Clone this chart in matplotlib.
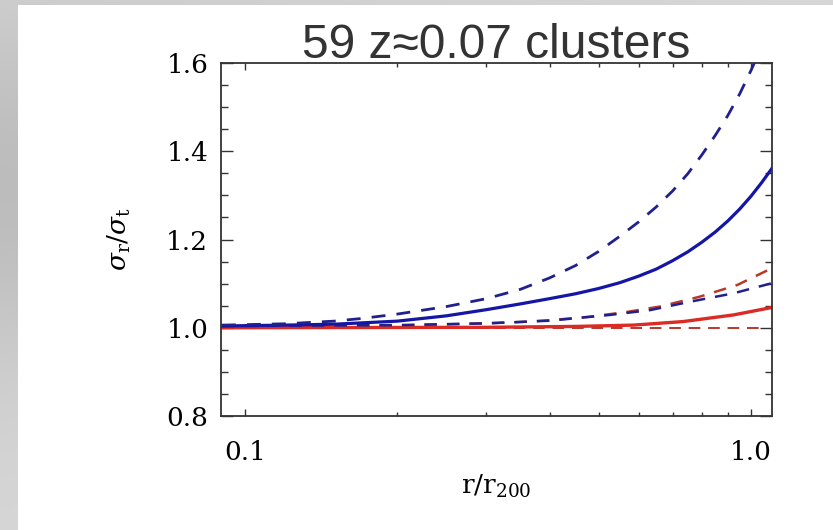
import numpy as np
import matplotlib
matplotlib.use("Agg")
import matplotlib.pyplot as plt
from matplotlib.patches import Rectangle
from matplotlib.ticker import FixedLocator, NullFormatter, MultipleLocator

plt.rcParams['mathtext.fontset'] = 'dejavuserif'

# --- velocity-dispersion anisotropy profiles, sigma_r / sigma_t vs r / r200 ---
r_blue_dash_hi = [0.09, 0.10, 0.12, 0.15, 0.17, 0.20, 0.25, 0.30, 0.35, 0.40, 0.45,
                  0.50, 0.55, 0.60, 0.65, 0.70, 0.75, 0.80, 0.85, 0.90, 0.95, 1.00, 1.02]
s_blue_dash_hi = [1.006, 1.007, 1.009, 1.015, 1.021, 1.031, 1.048, 1.066, 1.087, 1.113, 1.141,
                  1.173, 1.207, 1.240, 1.274, 1.310, 1.349, 1.392, 1.436, 1.481, 1.530, 1.583, 1.605]

r_blue_solid = [0.09, 0.12, 0.15, 0.20, 0.25, 0.30, 0.35, 0.40, 0.45, 0.50, 0.55,
                0.60, 0.65, 0.70, 0.75, 0.80, 0.85, 0.90, 0.95, 1.00, 1.05, 1.10]
s_blue_solid = [1.004, 1.006, 1.008, 1.015, 1.027, 1.041, 1.054, 1.066, 1.077, 1.089, 1.102,
                1.117, 1.133, 1.152, 1.172, 1.194, 1.217, 1.242, 1.269, 1.298, 1.329, 1.361]

r_red_dash_hi = [0.09, 0.20, 0.30, 0.35, 0.40, 0.48, 0.57, 0.66, 0.79, 0.94, 1.10]
s_red_dash_hi = [1.003, 1.005, 1.010, 1.013, 1.017, 1.025, 1.036, 1.048, 1.070, 1.097, 1.135]

r_blue_dash_lo = [0.09, 0.20, 0.30, 0.40, 0.526, 0.632, 0.758, 0.923, 1.10]
s_blue_dash_lo = [1.004, 1.006, 1.010, 1.016, 1.029, 1.040, 1.059, 1.078, 1.101]

r_red_solid = [0.09, 0.30, 0.45, 0.586, 0.734, 0.923, 1.10]
s_red_solid = [1.000, 1.001, 1.003, 1.006, 1.014, 1.029, 1.046]

r_red_dash_lo = [0.09, 0.30, 0.60, 1.05]
s_red_dash_lo = [1.000, 1.000, 1.000, 1.000]

x_ticks = [0.1, 1.0]
x_tick_labels = ['0.1', '1.0']
y_ticks = [0.8, 1.0, 1.2, 1.4, 1.6]
y_tick_labels = ['0.8', '1.0', '1.2', '1.4', '1.6']

W, H = 833, 530
fig = plt.figure(figsize=(W / 100, H / 100), dpi=100)

# slide background: grey gradient strip with a white content panel
bg = fig.add_axes([0, 0, 1, 1], zorder=-10)
yy = np.linspace(0, 1, 256)[:, None]
xx = np.linspace(0, 1, 64)[None, :]
shade = 0.84 - 0.10 * np.exp(-((yy - 0.35) / 0.35) ** 2) + 0.04 * xx
bg.imshow(np.dstack([shade] * 3), extent=[0, 1, 0, 1], aspect='auto', origin='upper')
bg.add_patch(Rectangle((18 / W, 0), 1 - 18 / W, 1 - 5 / H, transform=bg.transAxes,
                       facecolor='white', edgecolor='none'))
bg.set_axis_off()

ax = fig.add_axes([220.7 / W, 1 - 416 / H, (772.3 - 220.7) / W, (416 - 63) / H])
ax.set_facecolor('white')

blue = '#1616a6'
blue_d = '#20208e'
red = '#dc2a24'
red_d = '#b8382c'

ax.plot(r_red_dash_lo, s_red_dash_lo, color=red_d, lw=1.4, dashes=(6, 4))
ax.plot(r_red_solid, s_red_solid, color=red, lw=2.4)
ax.plot(r_red_dash_hi, s_red_dash_hi, color=red_d, lw=1.8, dashes=(5, 4))
ax.plot(r_blue_dash_lo, s_blue_dash_lo, color=blue_d, lw=1.8, dashes=(5, 4))
ax.plot(r_blue_solid, s_blue_solid, color=blue, lw=2.3)
ax.plot(r_blue_dash_hi, s_blue_dash_hi, color=blue_d, lw=2.0, dashes=(5, 4))

ax.set_xscale('log')
ax.set_xlim(0.0895, 1.102)
ax.set_ylim(0.8, 1.6)

ink = '#333333'
ax.xaxis.set_major_locator(FixedLocator(x_ticks))
ax.set_xticklabels(x_tick_labels)
ax.xaxis.set_minor_locator(FixedLocator([0.2, 0.3, 0.4, 0.5, 0.6, 0.7, 0.8, 0.9]))
ax.xaxis.set_minor_formatter(NullFormatter())
ax.yaxis.set_major_locator(FixedLocator(y_ticks))
ax.set_yticklabels(y_tick_labels)
ax.yaxis.set_minor_locator(MultipleLocator(0.05))

for s in ax.spines.values():
    s.set_color(ink)
    s.set_linewidth(1.3)

ax.tick_params(axis='both', which='both', direction='in', top=True, right=True,
               color=ink, width=1.0, labelcolor='black')
ax.tick_params(axis='x', which='major', length=5, pad=17)
ax.tick_params(axis='x', which='minor', length=3)
ax.tick_params(axis='y', which='major', length=8.6, pad=9)
ax.tick_params(axis='y', which='minor', length=5)
for lab in ax.get_xticklabels() + ax.get_yticklabels():
    lab.set_fontfamily('DejaVu Serif')
    lab.set_fontsize(19)

ax.set_xlabel(r'$\mathrm{r/r_{200}}$', fontsize=19, labelpad=6)
ax.set_ylabel(r'$\sigma_{\mathrm{r}}/\sigma_{\mathrm{t}}$', fontsize=19, labelpad=24)

fig.text((220.7 + 772.3) / 2 / W, 1 - 58 / H, '59 z\u22480.07 clusters',
         ha='center', va='baseline', fontsize=34.5, family='Liberation Sans', color=ink)

fig.savefig('out.png', dpi=100)
